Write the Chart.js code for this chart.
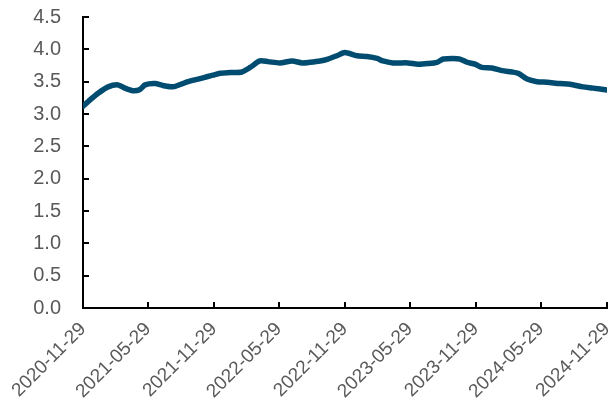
<!DOCTYPE html>
<html>
<head>
<meta charset="utf-8">
<script src="https://cdn.jsdelivr.net/npm/chart.js@4/dist/chart.umd.min.js"></script>
<style>
html,body{margin:0;padding:0;background:#fff;}
#wrap{width:610px;height:408px;position:relative;}
</style>
</head>
<body>
<div id="wrap"><canvas id="c" width="610" height="408"></canvas></div>
<script>
const dates = ["2020-11-29","2020-12-13","2021-01-10","2021-02-07","2021-03-07","2021-03-26","2021-04-17","2021-05-07","2021-05-21","2021-06-18","2021-07-10","2021-08-07","2021-08-29","2021-09-18","2021-10-16","2021-11-12","2021-11-26","2021-12-16","2022-01-13","2022-02-15","2022-03-10","2022-04-06","2022-04-29","2022-06-01","2022-07-05","2022-08-02","2022-08-24","2022-09-21","2022-10-13","2022-11-07","2022-11-29","2023-01-02","2023-01-30","2023-02-27","2023-03-15","2023-04-12","2023-05-24","2023-06-21","2023-07-19","2023-08-13","2023-08-30","2023-09-27","2023-10-16","2023-11-05","2023-11-27","2023-12-16","2024-01-13","2024-02-10","2024-03-09","2024-03-26","2024-04-20","2024-05-18","2024-06-15","2024-07-21","2024-08-18","2024-09-23","2024-10-21","2024-11-29"];
const values = [3.12,3.19,3.32,3.42,3.45,3.40,3.36,3.38,3.45,3.47,3.44,3.42,3.46,3.50,3.54,3.58,3.60,3.63,3.64,3.65,3.72,3.82,3.81,3.79,3.82,3.79,3.80,3.82,3.85,3.90,3.95,3.90,3.89,3.86,3.82,3.79,3.79,3.77,3.78,3.80,3.85,3.86,3.85,3.80,3.77,3.72,3.71,3.67,3.65,3.63,3.54,3.50,3.49,3.47,3.46,3.42,3.40,3.37];
const tickLabels = ["2020-11-29","2021-05-29","2021-11-29","2022-05-29","2022-11-29","2023-05-29","2023-11-29","2024-05-29","2024-11-29"];
const yTicks = [0,0.5,1,1.5,2,2.5,3,3.5,4,4.5];

const origin = Date.UTC(2020,10,29);
function dayNum(s){const p=s.split('-').map(Number);return (Date.UTC(p[0],p[1]-1,p[2])-origin)/86400000;}
const points = dates.map((d,i)=>({x:dayNum(d),y:values[i]}));
const tickVals = tickLabels.map(dayNum);

const inwardTicks = {
  id:'inwardTicks',
  afterDraw(chart){
    const ctx = chart.ctx, xs = chart.scales.x, ys = chart.scales.y;
    const ca = chart.chartArea;
    ctx.save();
    ctx.strokeStyle = '#000';
    ctx.lineWidth = 2;
    ctx.beginPath();
    xs.ticks.forEach(t=>{const px=Math.round(xs.getPixelForValue(t.value)); ctx.moveTo(px, ca.bottom); ctx.lineTo(px, ca.bottom-6);});
    ys.ticks.forEach(t=>{const py=Math.round(ys.getPixelForValue(t.value)); ctx.moveTo(ca.left, py); ctx.lineTo(ca.left+6, py);});
    ctx.stroke();
    ctx.restore();
  }
};

new Chart(document.getElementById('c'), {
  type:'line',
  data:{datasets:[{data:points,borderColor:'#004C70',borderWidth:5.5,pointRadius:0,tension:0.25,borderCapStyle:'round',borderJoinStyle:'round',fill:false}]},
  options:{
    responsive:false,animation:false,
    layout:{padding:{left:0,right:3,top:17,bottom:0}},
    plugins:{legend:{display:false},tooltip:{enabled:false}},
    scales:{
      x:{type:'linear',min:tickVals[0],max:tickVals[tickVals.length-1],
        afterBuildTicks:(s)=>{s.ticks=tickVals.map(v=>({value:v}));},
        afterFit:(s)=>{s.height=100;s.paddingLeft=0;s.paddingRight=0;},
        grid:{display:false,drawTicks:false},
        border:{display:true,color:'#000',width:2},
        ticks:{autoSkip:false,maxRotation:45,minRotation:45,padding:10,color:'#595959',font:{family:'Liberation Sans, Arial',size:19},
          callback:(v,i)=>tickLabels[i]}},
      y:{min:0,max:4.5,
        afterBuildTicks:(s)=>{s.ticks=yTicks.map(v=>({value:v}));},
        afterFit:(s)=>{s.width=83;s.paddingTop=0;s.paddingBottom=0;},
        grid:{display:false,drawTicks:false},
        border:{display:true,color:'#000',width:2},
        ticks:{padding:22,color:'#595959',font:{family:'Liberation Sans, Arial',size:20},callback:(v)=>Number(v).toFixed(1)}}
    }
  },
  plugins:[inwardTicks]
});
</script>
</body>
</html>
